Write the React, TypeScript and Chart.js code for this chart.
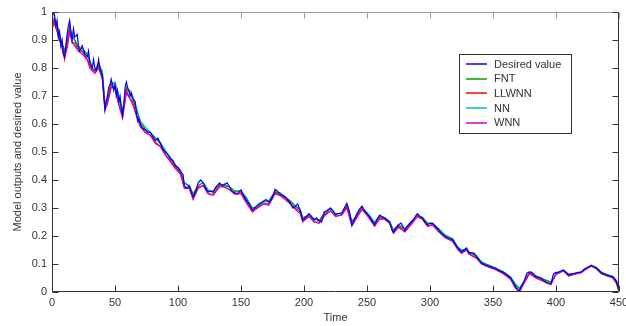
import React, { useEffect, useRef } from "react";
import { Chart, registerables } from "chart.js";

Chart.register(...registerables);

const seriesLabels = ["Desired value", "FNT", "LLWNN", "NN", "WNN"];
const seriesColors = ["#0000ff", "#00a000", "#ff0000", "#00bfbf", "#cc00cc"];

const xTickValues = [0, 50, 100, 150, 200, 250, 300, 350, 400, 450];

const desiredPoints: [number, number][] = [
  [0, 0.97], [1, 1.0], [2, 0.99], [3, 0.95], [4, 0.97], [5, 0.91], [6, 0.93], [7, 0.88], [8, 0.9], [9, 0.85],
  [10, 0.84], [11, 0.88], [12, 0.92], [13, 0.95], [14, 0.97], [15, 0.93], [16, 0.9], [17, 0.94], [18, 0.91], [20, 0.92],
  [21, 0.88], [22, 0.86], [24, 0.88], [26, 0.85], [28, 0.84], [29, 0.86], [30, 0.82], [31, 0.81], [32, 0.8], [33, 0.83],
  [34, 0.8], [35, 0.79], [36, 0.8], [37, 0.83], [38, 0.8], [40, 0.77], [41, 0.71], [42, 0.65], [43, 0.68], [44, 0.7],
  [45, 0.73], [46, 0.74], [47, 0.76], [48, 0.74], [49, 0.72], [50, 0.74], [51, 0.7], [52, 0.72], [53, 0.68], [54, 0.7],
  [55, 0.66], [56, 0.63], [57, 0.67], [58, 0.73], [59, 0.75], [60, 0.73], [61, 0.72], [62, 0.7], [63, 0.71], [64, 0.69],
  [66, 0.68], [67, 0.64], [68, 0.61], [69, 0.62], [70, 0.6], [71, 0.59], [72, 0.585], [74, 0.58], [76, 0.57], [78, 0.57],
  [80, 0.555], [82, 0.54], [84, 0.55], [86, 0.53], [88, 0.51], [90, 0.5], [92, 0.49], [94, 0.475], [96, 0.47], [98, 0.45],
  [100, 0.445], [102, 0.43], [104, 0.42], [105, 0.38], [107, 0.37], [109, 0.38], [111, 0.35], [112, 0.34], [114, 0.36], [116, 0.39],
  [118, 0.4], [120, 0.39], [122, 0.37], [124, 0.357], [126, 0.36], [128, 0.357], [130, 0.375], [133, 0.39], [135, 0.38], [137, 0.385],
  [139, 0.39], [141, 0.375], [143, 0.36], [145, 0.355], [147, 0.35], [150, 0.365], [152, 0.345], [154, 0.33], [157, 0.31], [159, 0.293],
  [161, 0.3], [163, 0.31], [165, 0.317], [168, 0.325], [170, 0.33], [172, 0.32], [174, 0.33], [176, 0.35], [177, 0.367], [179, 0.36],
  [181, 0.35], [183, 0.345], [185, 0.34], [187, 0.33], [189, 0.32], [191, 0.3], [193, 0.305], [195, 0.315], [197, 0.29], [199, 0.257],
  [201, 0.265], [203, 0.275], [204, 0.28], [206, 0.27], [208, 0.257], [210, 0.265], [212, 0.255], [214, 0.25], [216, 0.286], [218, 0.29],
  [221, 0.3], [223, 0.29], [225, 0.275], [227, 0.28], [230, 0.283], [232, 0.3], [234, 0.317], [236, 0.29], [238, 0.24], [240, 0.26],
  [242, 0.28], [244, 0.295], [246, 0.307], [248, 0.29], [250, 0.28], [252, 0.27], [254, 0.255], [256, 0.24], [258, 0.26], [260, 0.275],
  [262, 0.27], [264, 0.264], [266, 0.257], [268, 0.25], [270, 0.22], [271, 0.214], [273, 0.23], [275, 0.24], [277, 0.246], [279, 0.23],
  [280, 0.22], [282, 0.235], [285, 0.25], [287, 0.26], [289, 0.275], [290, 0.28], [292, 0.27], [294, 0.264], [296, 0.25], [298, 0.24],
  [300, 0.245], [302, 0.246], [305, 0.232], [307, 0.22], [310, 0.204], [312, 0.2], [314, 0.193], [316, 0.19], [318, 0.186], [320, 0.17],
  [322, 0.157], [325, 0.143], [327, 0.15], [329, 0.157], [331, 0.139], [333, 0.14], [335, 0.139], [337, 0.125], [339, 0.112], [341, 0.104],
  [344, 0.096], [347, 0.092], [349, 0.089], [352, 0.085], [355, 0.076], [358, 0.07], [360, 0.065], [362, 0.058], [364, 0.05], [366, 0.035],
  [368, 0.018], [370, 0.007], [371, 0.005], [373, 0.025], [375, 0.043], [377, 0.068], [379, 0.072], [381, 0.07], [383, 0.06], [384, 0.054],
  [386, 0.052], [388, 0.05], [390, 0.042], [393, 0.032], [396, 0.03], [398, 0.065], [400, 0.07], [402, 0.071], [404, 0.075], [406, 0.079],
  [408, 0.07], [410, 0.061], [413, 0.065], [416, 0.068], [418, 0.07], [420, 0.072], [422, 0.08], [424, 0.086], [426, 0.09], [428, 0.096],
  [430, 0.09], [432, 0.086], [434, 0.078], [436, 0.068], [438, 0.065], [440, 0.061], [442, 0.058], [445, 0.054], [447, 0.045], [448, 0.036],
  [449, 0.02], [450, 0.005],
];

const modelTime = [
  0, 2, 4, 6, 8, 10, 12, 14, 16, 18,
  21, 24, 28, 30, 32, 34, 37, 40, 42, 44,
  47, 50, 53, 56, 59, 62, 64, 67, 70, 74,
  78, 82, 86, 90, 94, 98, 102, 105, 109, 112,
  116, 120, 124, 128, 133, 137, 141, 145, 150, 154,
  159, 163, 168, 172, 177, 181, 185, 189, 193, 197,
  199, 204, 208, 212, 216, 221, 225, 230, 234, 238,
  242, 246, 250, 256, 260, 264, 268, 271, 275, 280,
  285, 290, 294, 298, 302, 307, 312, 318, 322, 325,
  329, 331, 337, 341, 347, 352, 358, 364, 368, 371,
  375, 379, 384, 390, 396, 400, 406, 410, 416, 420,
  424, 428, 432, 436, 440, 445, 448, 450,
];

const fntValues = [
  0.96, 0.98, 0.95, 0.92, 0.89, 0.86, 0.9, 0.95, 0.91, 0.9,
  0.87, 0.87, 0.85, 0.82, 0.8, 0.79, 0.82, 0.78, 0.67, 0.69,
  0.75, 0.74, 0.69, 0.64, 0.73, 0.71, 0.69, 0.65, 0.61, 0.58,
  0.57, 0.55, 0.53, 0.5, 0.48, 0.45, 0.43, 0.39, 0.38, 0.35,
  0.38, 0.39, 0.36, 0.36, 0.385, 0.38, 0.375, 0.36, 0.36, 0.335,
  0.3, 0.305, 0.325, 0.325, 0.36, 0.35, 0.34, 0.325, 0.305, 0.295,
  0.265, 0.275, 0.26, 0.255, 0.28, 0.3, 0.28, 0.28, 0.31, 0.25,
  0.275, 0.305, 0.28, 0.245, 0.27, 0.265, 0.25, 0.22, 0.24, 0.225,
  0.25, 0.275, 0.265, 0.245, 0.245, 0.225, 0.2, 0.19, 0.16, 0.148,
  0.152, 0.142, 0.128, 0.105, 0.095, 0.084, 0.072, 0.052, 0.025, 0.012,
  0.04, 0.07, 0.058, 0.045, 0.035, 0.065, 0.078, 0.063, 0.067, 0.071,
  0.085, 0.094, 0.087, 0.07, 0.062, 0.055, 0.04, 0.012,
];

const llwnnValues = [
  0.94, 0.96, 0.93, 0.9, 0.87, 0.83, 0.89, 0.94, 0.89, 0.89,
  0.86, 0.86, 0.83, 0.81, 0.79, 0.79, 0.81, 0.76, 0.66, 0.68,
  0.74, 0.73, 0.67, 0.63, 0.72, 0.69, 0.68, 0.63, 0.6, 0.57,
  0.56, 0.53, 0.52, 0.49, 0.465, 0.44, 0.42, 0.375, 0.37, 0.335,
  0.375, 0.38, 0.35, 0.35, 0.38, 0.375, 0.365, 0.35, 0.355, 0.325,
  0.29, 0.3, 0.315, 0.315, 0.355, 0.345, 0.335, 0.315, 0.3, 0.285,
  0.255, 0.27, 0.25, 0.25, 0.275, 0.29, 0.27, 0.275, 0.305, 0.24,
  0.27, 0.295, 0.275, 0.235, 0.265, 0.26, 0.245, 0.21, 0.235, 0.215,
  0.245, 0.27, 0.26, 0.235, 0.24, 0.215, 0.195, 0.182, 0.155, 0.14,
  0.15, 0.136, 0.122, 0.1, 0.09, 0.082, 0.066, 0.046, 0.015, 0.003,
  0.038, 0.068, 0.052, 0.04, 0.028, 0.066, 0.076, 0.058, 0.066, 0.07,
  0.083, 0.093, 0.084, 0.066, 0.059, 0.052, 0.034, 0.004,
];

const nnValues = [
  0.96, 0.97, 0.96, 0.91, 0.89, 0.85, 0.88, 0.93, 0.92, 0.9,
  0.88, 0.86, 0.85, 0.83, 0.8, 0.79, 0.81, 0.79, 0.68, 0.68,
  0.74, 0.75, 0.7, 0.65, 0.72, 0.72, 0.7, 0.66, 0.61, 0.59,
  0.57, 0.55, 0.535, 0.505, 0.48, 0.455, 0.435, 0.39, 0.375, 0.35,
  0.38, 0.39, 0.365, 0.355, 0.38, 0.385, 0.375, 0.36, 0.36, 0.34,
  0.3, 0.305, 0.32, 0.325, 0.355, 0.355, 0.34, 0.325, 0.31, 0.295,
  0.265, 0.27, 0.262, 0.256, 0.278, 0.298, 0.28, 0.28, 0.305, 0.255,
  0.27, 0.3, 0.285, 0.25, 0.268, 0.266, 0.252, 0.222, 0.236, 0.226,
  0.246, 0.272, 0.268, 0.246, 0.244, 0.226, 0.204, 0.19, 0.162, 0.15,
  0.154, 0.143, 0.13, 0.108, 0.094, 0.086, 0.073, 0.054, 0.028, 0.014,
  0.036, 0.066, 0.058, 0.046, 0.036, 0.062, 0.077, 0.064, 0.066, 0.07,
  0.084, 0.094, 0.088, 0.071, 0.063, 0.056, 0.041, 0.014,
];

const wnnValues = [
  0.95, 0.97, 0.94, 0.9, 0.88, 0.84, 0.87, 0.93, 0.89, 0.88,
  0.86, 0.85, 0.83, 0.8, 0.79, 0.78, 0.8, 0.76, 0.65, 0.67,
  0.73, 0.73, 0.67, 0.62, 0.71, 0.69, 0.67, 0.63, 0.59, 0.57,
  0.56, 0.535, 0.52, 0.49, 0.47, 0.445, 0.425, 0.37, 0.37, 0.33,
  0.37, 0.38, 0.35, 0.345, 0.375, 0.375, 0.365, 0.35, 0.35, 0.32,
  0.285, 0.3, 0.315, 0.31, 0.35, 0.345, 0.33, 0.315, 0.295, 0.28,
  0.25, 0.27, 0.25, 0.245, 0.27, 0.29, 0.27, 0.275, 0.3, 0.235,
  0.265, 0.295, 0.275, 0.235, 0.26, 0.26, 0.245, 0.21, 0.23, 0.215,
  0.24, 0.27, 0.26, 0.235, 0.24, 0.215, 0.195, 0.18, 0.152, 0.138,
  0.15, 0.135, 0.12, 0.1, 0.088, 0.08, 0.066, 0.045, 0.012, 0.0,
  0.034, 0.065, 0.05, 0.038, 0.026, 0.064, 0.075, 0.057, 0.065, 0.069,
  0.082, 0.092, 0.083, 0.065, 0.058, 0.05, 0.03, 0.002,
];

const FONT = "'Liberation Sans', Arial, Helvetica, sans-serif";
const TEXT = "#333";

const frameAndLegend = {
  id: "frameAndLegend",
  afterDraw(chart: any) {
    const { ctx, chartArea } = chart;
    const { left, right, top, bottom } = chartArea;
    const xs = chart.scales.x;
    const ys = chart.scales.y;
    ctx.save();
    ctx.lineWidth = 1;
    const L = Math.round(left) + 0.5;
    const R = Math.round(right) - 0.5;
    const T = Math.round(top) + 0.5;
    const B = Math.round(bottom) - 0.5;
    ctx.strokeStyle = "#999";
    ctx.beginPath();
    ctx.moveTo(L, T);
    ctx.lineTo(R, T);
    xs.ticks.forEach((t: any) => {
      const px = Math.round(xs.getPixelForValue(t.value)) + 0.5;
      ctx.moveTo(px, T);
      ctx.lineTo(px, T + 6);
    });
    ctx.stroke();
    ctx.strokeStyle = "#333";
    ctx.beginPath();
    ctx.moveTo(L, T);
    ctx.lineTo(L, B);
    ctx.lineTo(R, B);
    ctx.lineTo(R, T);
    xs.ticks.forEach((t: any) => {
      const px = Math.round(xs.getPixelForValue(t.value)) + 0.5;
      ctx.moveTo(px, B);
      ctx.lineTo(px, B - 6);
    });
    ys.ticks.forEach((t: any) => {
      const py = Math.round(ys.getPixelForValue(t.value)) + 0.5;
      ctx.moveTo(L, py);
      ctx.lineTo(L + 6, py);
      ctx.moveTo(R, py);
      ctx.lineTo(R - 6, py);
    });
    ctx.stroke();

    // legend
    const bx = 459.5, by = 54.5, bw = 112, bh = 79;
    ctx.fillStyle = "#fff";
    ctx.fillRect(bx, by, bw, bh);
    ctx.strokeStyle = "#333";
    ctx.lineWidth = 1;
    ctx.strokeRect(bx, by, bw, bh);
    ctx.font = `11px ${FONT}`;
    ctx.textBaseline = "middle";
    ctx.textAlign = "left";
    seriesLabels.forEach((label, i) => {
      const yy = 64 + i * 14.7;
      const ly = Math.round(yy);
      ctx.strokeStyle = seriesColors[i];
      ctx.lineWidth = 1.5;
      ctx.beginPath();
      ctx.moveTo(466, ly);
      ctx.lineTo(487, ly);
      ctx.stroke();
      ctx.fillStyle = TEXT;
      ctx.fillText(label, 494, yy + 0.5);
    });
    ctx.restore();
  },
};

export default function App() {
  const ref = useRef<HTMLCanvasElement | null>(null);
  useEffect(() => {
    document.body.style.margin = "0";
    const canvas = ref.current;
    if (!canvas) return;
    const modelSets = [fntValues, llwnnValues, nnValues, wnnValues];
    const drawOrder = [0, 3, 2, 4, 1];
    const datasets = seriesLabels.map((label, i) => {
      const data =
        i === 0
          ? desiredPoints.map(([t, v]) => ({ x: t, y: v }))
          : modelTime.map((t, k) => ({ x: t, y: modelSets[i - 1][k] }));
      return {
        label,
        data,
        borderColor: seriesColors[i],
        backgroundColor: seriesColors[i],
        borderWidth: 1.2,
        pointRadius: 0,
        tension: 0,
        fill: false,
        order: drawOrder[i],
      };
    });
    const chart = new Chart(canvas, {
      type: "line",
      data: { datasets },
      options: {
        animation: false,
        responsive: false,
        devicePixelRatio: 1,
        layout: { padding: { left: 0, right: 7, top: 12, bottom: 0 } },
        plugins: { legend: { display: false }, tooltip: { enabled: false } },
        scales: {
          x: {
            type: "linear",
            min: 0,
            max: 450,
            afterBuildTicks: (scale: any) => {
              scale.ticks = xTickValues.map((v) => ({ value: v }));
            },
            ticks: { color: TEXT, font: { family: FONT, size: 11 }, padding: 4, maxRotation: 0, autoSkip: false },
            grid: { display: false, drawTicks: false },
            border: { display: false },
            title: { display: true, text: "Time", color: TEXT, font: { family: FONT, size: 11 }, padding: { top: 0, bottom: 1 } },
            afterFit: (scale: any) => {
              scale.height = 34;
              scale.paddingLeft = 0;
              scale.paddingRight = 0;
            },
          },
          y: {
            type: "linear",
            min: 0,
            max: 1,
            ticks: {
              stepSize: 0.1,
              color: TEXT,
              font: { family: FONT, size: 11 },
              padding: 5,
              callback: (v: any) => String(Math.round(Number(v) * 10) / 10),
            },
            grid: { display: false, drawTicks: false },
            border: { display: false },
            title: {
              display: true,
              text: "Model outputs and desired value",
              color: TEXT,
              font: { family: FONT, size: 11 },
              padding: { top: 11, bottom: 0 },
            },
            afterFit: (scale: any) => {
              scale.width = 52;
              scale.paddingTop = 0;
              scale.paddingBottom = 0;
            },
          },
        },
      },
      plugins: [frameAndLegend],
    });
    return () => chart.destroy();
  }, []);
  return <canvas ref={ref} width={626} height={326} style={{ display: "block", width: 626, height: 326 }} />;
}
